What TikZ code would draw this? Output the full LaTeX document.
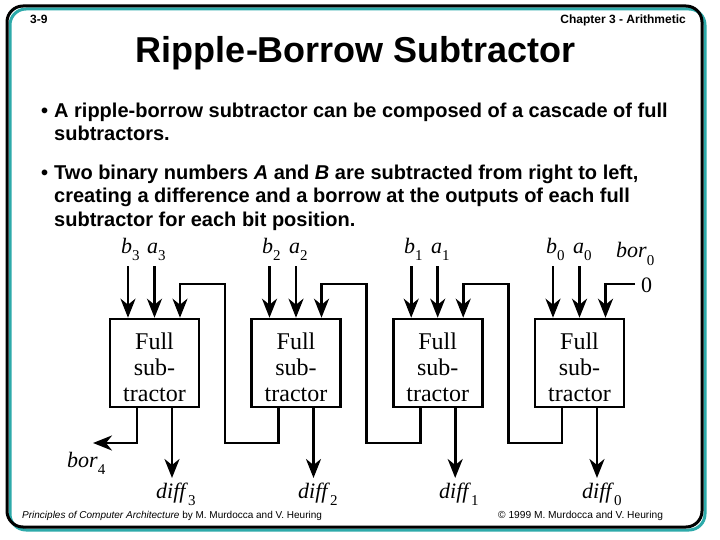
\documentclass[tikz,border=0pt]{standalone}
\usepackage{fontspec}
\setmainfont{Liberation Serif}
\newfontfamily\arial{Liberation Sans}
\usetikzlibrary{arrows.meta}
\definecolor{frameteal}{RGB}{45,170,170}
\newcommand\lbl[2]{\textit{#1}\raisebox{-0.35em}{\fontsize{15}{15}\selectfont #2}}
\newcommand\fstext{\rule{0pt}{26pt}Full\\sub-\\tractor}
\begin{document}
\begin{tikzpicture}[x=1pt,y=-1pt,
  wire/.style={line width=2.6pt,line join=miter},
  arr/.style={wire,-{Stealth[length=19pt,width=15pt,inset=6pt]}},
  fsbox/.style={draw,line width=2.6pt,minimum width=89pt,minimum height=88pt,inner sep=0pt,align=center,font=\fontsize{24}{26}\selectfont},
  lab/.style={font=\fontsize{22}{22}\selectfont,inner sep=0pt,anchor=base west},
  bodytext/.style={font=\arial\bfseries\fontsize{20}{23}\selectfont,anchor=base west,inner sep=0pt},
  small/.style={inner sep=0pt,anchor=base west}]
\useasboundingbox[fill=white] (0,0) rectangle (720,540);
% frame
\draw[frameteal,line width=3pt,rounded corners=16pt] (10,9) rectangle (705,530);
\draw[black,line width=3pt,rounded corners=16pt] (7,6) rectangle (702,527);
% header
\node[small,font=\arial\bfseries\fontsize{12}{13}\selectfont] (pg) at (30,24) {3-9};
\node[inner sep=0pt,anchor=base east,font=\arial\bfseries\fontsize{12}{13}\selectfont] (chap) at (686,24) {Chapter 3 - Arithmetic};
\node[inner sep=0pt,anchor=base,font=\arial\bfseries\fontsize{36}{40}\selectfont] (title) at (356,63) {Ripple-Borrow Subtractor};
% bullets
\node[bodytext] (bu1) at (41,118) {\textbullet};
\node[bodytext] (t1) at (54,118) {A ripple-borrow subtractor can be composed of a cascade of full};
\node[bodytext] (t2) at (54,141) {subtractors.};
\node[bodytext] (bu2) at (41,180) {\textbullet};
\node[bodytext] (t3) at (54,180) {Two binary numbers \textit{A} and \textit{B} are subtracted from right to left,};
\node[bodytext] (t4) at (54,203) {creating a difference and a borrow at the outputs of each full};
\node[bodytext] (t5) at (54,226) {subtractor for each bit position.};
% boxes
\node[fsbox] (f3) at (154.5,363) {\fstext};
\node[fsbox] (f2) at (296,363) {\fstext};
\node[fsbox] (f1) at (437.7,363) {\fstext};
\node[fsbox] (f0) at (579.5,363) {\fstext};
% input labels
\node[lab] (lb3) at (121,253) {\lbl{b}{3}};
\node[lab] (la3) at (147,253) {\lbl{a}{3}};
\node[lab] (lb2) at (262,253) {\lbl{b}{2}};
\node[lab] (la2) at (289,253) {\lbl{a}{2}};
\node[lab] (lb1) at (404,253) {\lbl{b}{1}};
\node[lab] (la1) at (431,253) {\lbl{a}{1}};
\node[lab] (lb0) at (546,253) {\lbl{b}{0}};
\node[lab] (la0) at (573,253) {\lbl{a}{0}};
\node[lab] (lbor0) at (616,258) {\lbl{bor}{0}};
\node[lab] (zero) at (641,292) {0};
% inputs and outputs
\foreach \i/\c in {3/154.5,2/296,1/437.7,0/579.5}{
  \coordinate (ib\i) at (\c-26.5,266);
  \coordinate (ia\i) at (\c,266);
  \coordinate (od\i) at (\c+17.5,478);
  \draw[arr] (ib\i) -- (ib\i |- f\i.north);
  \draw[arr] (ia\i) -- (ia\i |- f\i.north);
  \draw[arr] (f\i.south -| od\i) -- (od\i);
}
% diff labels
\node[lab] (d3) at (156,498) {\lbl{diff}{3}};
\node[lab] (d2) at (298,498) {\lbl{diff}{2}};
\node[lab] (d1) at (439,498) {\lbl{diff}{1}};
\node[lab] (d0) at (582,498) {\lbl{diff}{0}};
% borrow chain
\foreach \j/\k/\cj/\ck in {2/3/296/154.5,1/2/437.7/296,0/1/579.5/437.7}{
  \coordinate (bo\j) at (\cj-17.5,443);
  \coordinate (bi\k) at (\ck+25.5,284);
  \draw[arr] (f\j.south -| bo\j) -- (bo\j) -- (\ck+70.5,443) -- (\ck+70.5,284) -- (bi\k) -- (bi\k |- f\k.north);
}
\coordinate (bo3) at (137,443);
\coordinate (bor4tip) at (93,443);
\draw[arr] (f3.south -| bo3) -- (bo3) -- (bor4tip);
\node[lab] (lbor4) at (67,467) {\lbl{bor}{4}};
\coordinate (bi0) at (605.5,284);
\draw[arr] (zero.west |- bi0) ++(-6,0) -- (bi0) -- (bi0 |- f0.north);
% footer
\node[small,font=\arial\fontsize{10}{11}\selectfont] (foot1) at (22,518) {\textit{Principles of Computer Architecture} by M. Murdocca and V. Heuring};
\node[small,font=\arial\fontsize{10.2}{11}\selectfont] (foot2) at (498,518) {© 1999 M. Murdocca and V. Heuring};
\end{tikzpicture}
\end{document}
